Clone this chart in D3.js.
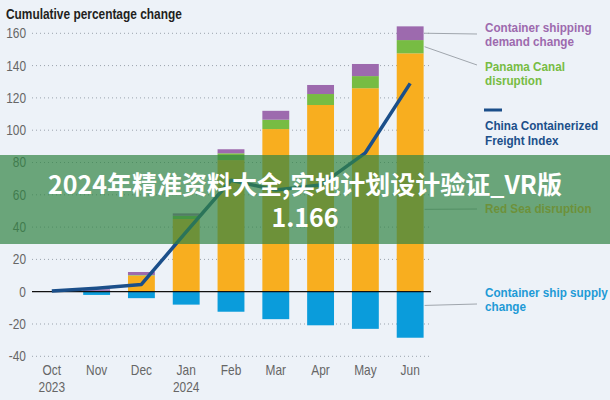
<!DOCTYPE html>
<html>
<head>
<meta charset="utf-8">
<script src="https://cdn.jsdelivr.net/npm/d3@7"></script>
<style>
  body { margin: 0; background: #edf2f8; }
  svg { display: block; }
  .narrow { font-family: "Liberation Sans", Arial, sans-serif; }
</style>
</head>
<body>
<svg id="chart" width="610" height="400"></svg>
<script>
// chart data
var months = ["Oct", "Nov", "Dec", "Jan", "Feb", "Mar", "Apr", "May", "Jun"];
var years = ["2023", "", "", "2024", "", "", "", "", ""];
var redSea = [0, 0, 10, 45, 81.5, 100.7, 115.6, 126, 147.6];
var panama = [0, 0.5, 0.3, 2, 4.2, 5.8, 6.8, 7.5, 8.2];
var demand = [0, 1, 1.9, 1.5, 2.5, 5.5, 5.6, 7.5, 8.5];
var supply = [0, -2, -4, -8, -12.4, -17, -20.8, -23, -28.5];
var cfi = [0.4, 2.2, 4.5, 37, 69, 63, 66, 86, 129];
var yTicks = [-40, -20, 0, 20, 40, 60, 80, 100, 120, 140, 160];

var colors = { redSea: "#f8ae1f", panama: "#77bc43", demand: "#9d6aae", supply: "#0a9cdb" };
var lineColor = "#1b4f8a";

var svg = d3.select("#chart");

var x = d3.scaleBand()
    .domain(months)
    .range([16, 446])
    .paddingInner(0.4)
    .paddingOuter(0.5);

var y = d3.scaleLinear()
    .domain([-40, 160])
    .range([356.3, 33.3]);

var rows = months.map(function(m, i) {
  return { month: m, redSea: redSea[i], panama: panama[i], demand: demand[i], supply: supply[i] };
});

// condensed text: squeeze horizontally around the anchor point
function narrowText(px, py, size, squeeze) {
  return svg.append("g")
      .attr("transform", "translate(" + px + "," + py + ") scale(" + (squeeze || 0.85) + ",1)")
    .append("text")
      .attr("class", "narrow")
      .style("font-size", size + "px");
}

// title
narrowText(6, 19, 14)
    .style("font-weight", "bold")
    .style("fill", "#231f20")
    .text("Cumulative percentage change");

// dotted gridlines + y labels
svg.append("g").selectAll("line")
    .data(yTicks.filter(function(d) { return d !== 0; }))
  .enter().append("line")
    .attr("x1", 32).attr("x2", 431)
    .attr("y1", function(d) { return y(d); })
    .attr("y2", function(d) { return y(d); })
    .attr("stroke", "#9aa3ad")
    .attr("stroke-width", 1)
    .attr("stroke-dasharray", "1,3");

yTicks.forEach(function(d) {
  narrowText(26, y(d), 14)
      .attr("dy", "0.35em")
      .attr("text-anchor", "end")
      .style("fill", "#666")
      .text(d);
});

// stacked bars
var stack = d3.stack()
    .keys(["redSea", "panama", "demand", "supply"])
    .offset(d3.stackOffsetDiverging);

var series = stack(rows);

svg.append("g").selectAll("g")
    .data(series)
  .enter().append("g")
    .attr("fill", function(d) { return colors[d.key]; })
  .selectAll("rect")
    .data(function(d) { return d; })
  .enter().append("rect")
    .attr("x", function(d) { return x(d.data.month); })
    .attr("width", x.bandwidth())
    .attr("y", function(d) { return y(Math.max(d[0], d[1])); })
    .attr("height", function(d) { return Math.abs(y(d[0]) - y(d[1])); });

// zero line
svg.append("line")
    .attr("x1", 32).attr("x2", 431)
    .attr("y1", y(0)).attr("y2", y(0))
    .attr("stroke", "#111")
    .attr("stroke-width", 1.3);

// freight index line
var line = d3.line()
    .x(function(d, i) { return x(months[i]) + x.bandwidth() / 2; })
    .y(function(d) { return y(d); });

svg.append("path")
    .datum(cfi)
    .attr("d", line)
    .attr("fill", "none")
    .attr("stroke", lineColor)
    .attr("stroke-width", 3.5)
    .attr("stroke-linejoin", "round");

// x labels
months.forEach(function(m, i) {
  var cx = x(m) + x.bandwidth() / 2;
  narrowText(cx, 375, 14)
      .attr("text-anchor", "middle")
      .style("fill", "#666")
      .text(m);
  if (years[i]) {
    narrowText(cx, 392, 14)
        .attr("text-anchor", "middle")
        .style("fill", "#666")
        .text(years[i]);
  }
});

// legend with leader lines
var last = months.length - 1;
var barRight = x(months[last]) + x.bandwidth();
var jun = series.map(function(s) { return s[last]; });
var legend = [
  { lines: ["Container shipping", "demand change"], color: "#9d6aae", from: (jun[2][0] + jun[2][1]) / 2, to: 34, ty: 31.5 },
  { lines: ["Panama Canal", "disruption"], color: "#77bc43", from: (jun[1][0] + jun[1][1]) / 2, to: 65, ty: 70.5 },
  { lines: ["Red Sea disruption"], color: "#f8ae1f", from: 51, to: 209, ty: 213 },
  { lines: ["Container ship supply", "change"], color: "#1e9ad6", from: -8.5, to: 304, ty: 296.5 }
];

legend.forEach(function(l) {
  svg.append("line")
      .attr("x1", barRight + 1).attr("x2", 477)
      .attr("y1", y(l.from)).attr("y2", l.to)
      .attr("stroke", "#a0a6ad")
      .attr("stroke-width", 1);
  var t = narrowText(485, l.ty, 13, 0.9)
      .style("font-weight", "bold")
      .style("fill", l.color);
  l.lines.forEach(function(s, i) {
    t.append("tspan").attr("x", 0).attr("dy", i ? 14.5 : 0).text(s);
  });
});

svg.append("line")
    .attr("x1", 484).attr("x2", 502)
    .attr("y1", 110).attr("y2", 110)
    .attr("stroke", lineColor)
    .attr("stroke-width", 3);

var ct = narrowText(485, 130, 13, 0.9)
    .style("font-weight", "bold")
    .style("fill", lineColor);
ct.append("tspan").attr("x", 0).text("China Containerized");
ct.append("tspan").attr("x", 0).attr("dy", 15).text("Freight Index");

// overlay banner
svg.append("rect")
    .attr("x", 0).attr("y", 155)
    .attr("width", 610).attr("height", 89)
    .attr("fill", "rgb(50,132,68)")
    .attr("fill-opacity", 0.7);

var bt = svg.append("text")
    .attr("text-anchor", "middle")
    .style("font-family", "'Noto Sans CJK SC', 'Noto Sans', sans-serif")
    .style("font-size", "25px")
    .style("font-weight", "bold")
    .style("fill", "#fff");
bt.append("tspan").attr("x", 305).attr("y", 194).text("2024年精准资料大全,实地计划设计验证_VR版");
bt.append("tspan").attr("x", 305).attr("y", 227).text("1.166");
</script>
</body>
</html>
